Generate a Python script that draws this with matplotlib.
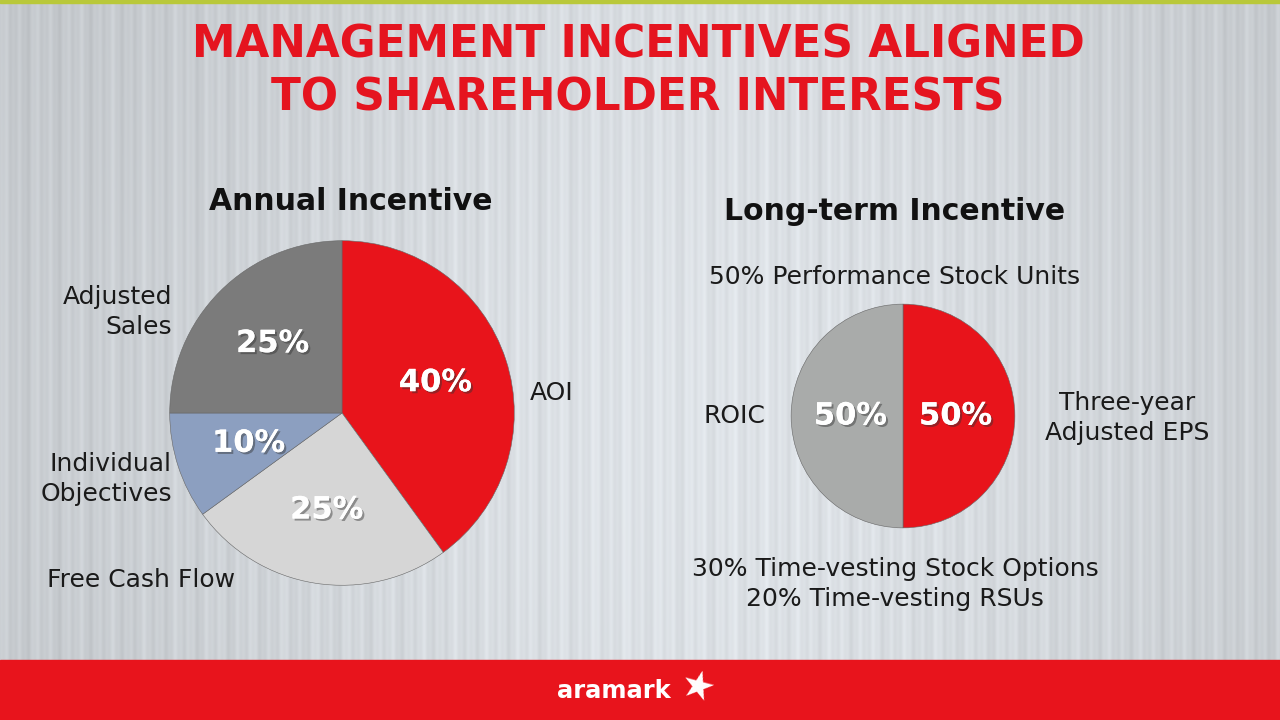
import matplotlib
matplotlib.use('Agg')
import matplotlib.pyplot as plt
import matplotlib.patheffects as pe
import numpy as np

plt.rcParams['font.family'] = ['DejaVu Sans']

# data
annual_labels = ['AOI', 'Free Cash Flow', 'Individual\nObjectives', 'Adjusted\nSales']
annual_values = [40, 25, 10, 25]
annual_colors = ['#e8141b', '#d6d6d6', '#8c9fc0', '#7b7b7b']

lti_labels = ['Three-year\nAdjusted EPS', 'ROIC']
lti_values = [50, 50]
lti_colors = ['#e8141b', '#a9abaa']

RED = '#e5141f'
W, H = 1280, 720

fig = plt.figure(figsize=(12.8, 7.2), dpi=100)

# background: brushed metal look
bg = fig.add_axes([0, 0, 1, 1])
xs = np.linspace(0, 1, W)
ys = np.linspace(0, 1, H)
X, Y = np.meshgrid(xs, ys)
base = 0.78 + 0.10 * np.exp(-((X - 0.55) / 0.38) ** 2) + 0.03 * np.exp(-((Y - 0.6) / 0.5) ** 2)
streak = 0.018 * np.sin(X * 517) + 0.012 * np.sin(X * 1290 + 1.3) + 0.01 * np.sin(X * 233 + 0.4)
val = np.clip(base + streak, 0, 1)
img = np.clip(np.dstack([val * 0.96, val * 0.98, val * 1.0]), 0, 1)
bg.imshow(img, extent=[0, W, H, 0], aspect='auto')
bg.set_xlim(0, W)
bg.set_ylim(H, 0)
bg.axis('off')

# top thin line and bottom band
bg.axhspan(0, 2.5, color='#b9c83a')
bg.axhspan(660, 720, color='#e8141c')

# title
bg.text(638, 45, 'MANAGEMENT INCENTIVES ALIGNED', ha='center', va='center',
        color=RED, fontsize=31.5, fontweight='bold')
bg.text(638, 98, 'TO SHAREHOLDER INTERESTS', ha='center', va='center',
        color=RED, fontsize=31.5, fontweight='bold')

# section headings
bg.text(351, 202, 'Annual Incentive', ha='center', va='center', color='#111111',
        fontsize=21.5, fontweight='bold')
bg.text(895, 212, 'Long-term Incentive', ha='center', va='center', color='#111111',
        fontsize=21.5, fontweight='bold')

lab = dict(color='#1a1a1a', fontsize=18)
# left pie labels
bg.text(172, 312, annual_labels[3], ha='right', va='center', linespacing=1.3, **lab)
bg.text(530, 393, annual_labels[0], ha='left', va='center', **lab)
bg.text(172, 479, annual_labels[2], ha='right', va='center', linespacing=1.3, **lab)
bg.text(47, 580, annual_labels[1], ha='left', va='center', **lab)

# right pie labels
bg.text(895, 277, '50% Performance Stock Units', ha='center', va='center', **lab)
bg.text(765, 416, lti_labels[1], ha='right', va='center', **lab)
bg.text(1127, 418, lti_labels[0], ha='center', va='center', linespacing=1.3, **lab)
bg.text(895, 584, '30% Time-vesting Stock Options\n20% Time-vesting RSUs', ha='center',
        va='center', linespacing=1.3, **lab)

# logo
bg.text(614, 691, 'aramark', ha='center', va='center', color='white', fontsize=17.5,
        fontweight='bold')
bg.text(697, 688, '\u2605', ha='center', va='center', color='white', fontsize=28,
        rotation=-15)


def pie_axes(cx, cy, r):
    return fig.add_axes([(cx - r) / W, (H - cy - r) / H, 2 * r / W, 2 * r / H])


pct_style = dict(color='white', fontsize=22, fontweight='bold')

ax1 = pie_axes(342, 413, 174)
w1, t1, a1 = ax1.pie(annual_values, colors=annual_colors, startangle=90, counterclock=False,
                     autopct='%d%%', pctdistance=0.57, radius=1,
                     wedgeprops=dict(edgecolor='#666666', linewidth=0.4),
                     textprops=pct_style)
ax1.set_xlim(-1.01, 1.01)
ax1.set_ylim(-1.01, 1.01)
ax1.axis('off')

ax2 = pie_axes(903, 416, 113)
w2, t2, a2 = ax2.pie(lti_values, colors=lti_colors, startangle=90, counterclock=False,
                     autopct='%d%%', pctdistance=0.47, radius=1,
                     wedgeprops=dict(edgecolor='#666666', linewidth=0.4),
                     textprops=pct_style)
ax2.set_xlim(-1.01, 1.01)
ax2.set_ylim(-1.01, 1.01)
ax2.axis('off')

for t in list(a1) + list(a2):
    t.set_path_effects([pe.withSimplePatchShadow(offset=(1.5, -1.5), shadow_rgbFace='#333333',
                                                 alpha=0.45), pe.Normal()])

fig.savefig('out.png', dpi=100)
